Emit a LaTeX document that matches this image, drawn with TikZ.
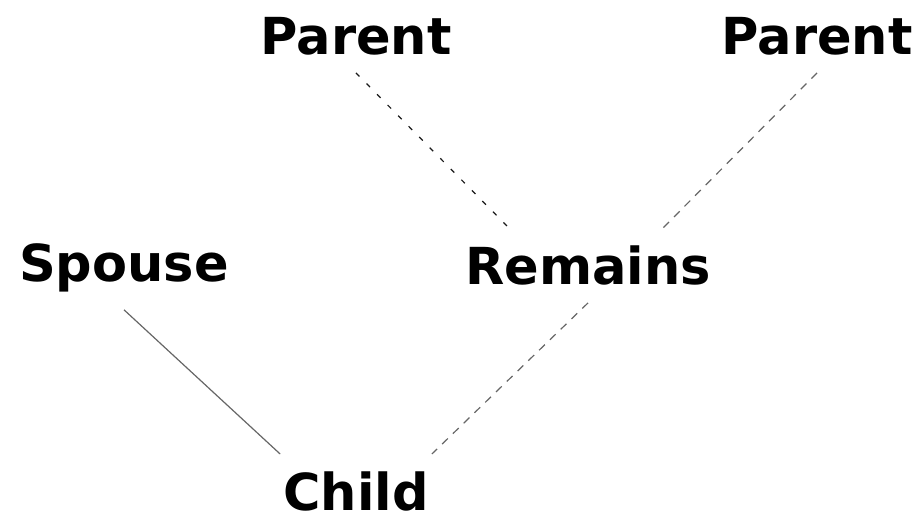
\documentclass[tikz,border=0pt]{standalone}
\usepackage{fontspec}
\newfontfamily\namefont{DejaVu Sans}
\begin{document}
\begin{tikzpicture}[x=1pt,y=1pt,
  person/.style={font=\fontsize{51}{56}\selectfont\namefont\bfseries,
    inner xsep=3pt, inner ysep=17pt, anchor=base},
  kin/.style={line width=1.2pt, color=black!60},
  kindash/.style={kin, dash pattern=on 8pt off 7pt},
  kindot/.style={line width=1.2pt, color=black!90, dash pattern=on 5pt off 10pt}]
\useasboundingbox (0,0) rectangle (920,519);
\node[person] (p1) at (356,464) {Parent};
\node[person] (p2) at (817,464) {Parent};
\node[person] (sp) at (124,237) {Spouse};
\node[person] (re) at (588,234) {Remains};
\node[person] (ch) at (356,9) {Child};
\draw[kindot] (p1.south) -- ([xshift=-78pt]re.north);
\draw[kindash] (p2.south) -- ([xshift=74pt]re.north);
\draw[kin] (sp.south) -- (ch.north west);
\draw[kindash] (re.south) -- (ch.north east);
\end{tikzpicture}
\end{document}
